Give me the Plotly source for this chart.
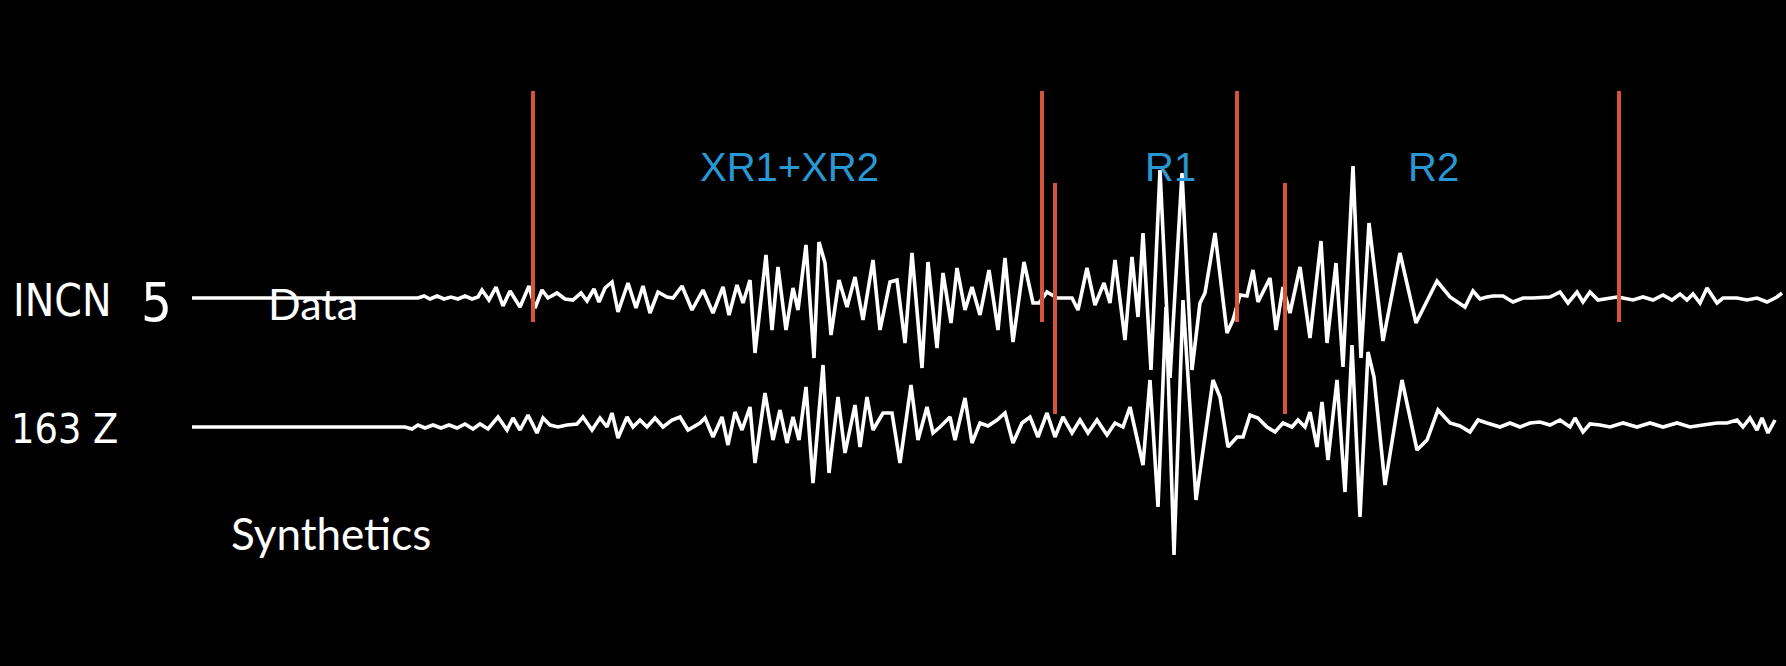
import plotly.graph_objects as go

# Recorded vertical-component trace (time in s, amplitude in counts)
data_t = [192, 418, 424, 430, 437, 444, 451, 458, 465, 472, 478,
          482, 489, 496, 503, 510, 520, 529, 535, 542, 548, 557, 565, 573, 581, 587,
          594, 599, 605, 612, 618, 628, 636, 643, 650, 658, 667, 673, 682, 692,
          703, 713, 723, 729, 737, 743, 750, 755, 766, 772, 778, 786, 793, 798,
          806, 814, 819, 825, 831, 839, 847, 855, 863, 873, 880, 890, 897, 905,
          912, 922, 928, 937, 943, 951, 957, 965, 972, 980, 989, 998, 1005, 1013,
          1024, 1033, 1039, 1047, 1057, 1072, 1078, 1087, 1095, 1104, 1110, 1115,
          1125, 1132, 1138, 1143, 1151, 1160, 1170, 1182, 1192, 1200, 1205, 1215,
          1227, 1233, 1240, 1247, 1253, 1258, 1264, 1270, 1276, 1283, 1290, 1300,
          1310, 1321, 1327, 1336, 1343, 1353, 1361, 1369, 1383, 1400, 1416, 1421,
          1437, 1450, 1458, 1465, 1473, 1480, 1487, 1493,
          1503, 1513, 1523, 1533, 1550, 1560, 1568, 1577, 1583, 1590, 1598, 1608,
          1617, 1623, 1633, 1643, 1653, 1663, 1672, 1680, 1687, 1693, 1700, 1707,
          1717, 1723, 1737, 1747, 1757, 1767, 1777, 1782]
data_amp = [0, 0, 2, -1, 2, -1, 1, -1, 2, -1, 1,
            8, -2, 11, -8, 7, -9, 12, -10, 8, 0, 5, -1, -2, 5, -3,
            9, -4, 10, 16, -14, 15, -10, 12, -15, 6, 1, 0, 12, -12,
            8, -15, 11, -17, 13, -5, 18, -55, 43, -32, 31, -32, 10, -12,
            53, -60, 56, 35, -37, 18, -9, 21, -22, 38, -32, 16, 18, -45,
            45, -70, 36, -50, 25, -25, 30, -12, 11, -17, 28, -32, 40, -44,
            36, -5, -5, 6, 0, 0, -12, 30, -7, 15, -5, 38,
            -42, 41, -19, 65, -72, 128, -80, 125, -72, -5, 5, 65,
            -35, -22, 3, 2, 28, -4, 8, 20, -32, 11, -15, 31,
            -40, 57, -45, 35, -69, 132, -60, 75, -43, 45, -25, -15,
            17, 1, -4, -9, 7, -1, 1, 2,
            2, -4, 0, 0, 1, 6, -5, 6, -4, 6, -2, 0,
            1, 0, -2, 1, -2, 3, -2, 4, -2, 4, -5, 10,
            -5, 0, 0, -2, 0, -4, 1, 5]

# Synthetic seismogram for the same station
syn_t = [192, 405, 412, 418, 425, 433, 441, 449, 457, 465, 473, 480, 488,
         498, 507, 513, 520, 528, 537, 543, 550, 558, 567, 577, 583, 592, 600,
         607, 612, 618, 627, 633, 640, 647, 655, 663, 672, 680, 688,
         700, 705, 713, 722, 728, 735, 742, 750, 755, 765, 773, 780, 787, 793,
         799, 806, 813, 823, 829, 838, 845, 855, 860, 867, 873, 883, 892, 900,
         911, 918, 927, 933, 940, 950, 955, 965, 972, 980, 988, 997, 1005, 1013,
         1022, 1030, 1038, 1047, 1055, 1063, 1072, 1080, 1088, 1097, 1107, 1115,
         1123, 1130, 1136, 1143, 1150, 1158, 1166, 1174, 1183, 1196, 1213, 1220,
         1228, 1237, 1243, 1250, 1258, 1267, 1275, 1283, 1292, 1298, 1305, 1310,
         1317, 1322, 1328, 1337, 1345, 1352, 1360, 1368, 1374, 1385, 1402, 1417,
         1427, 1438, 1450, 1460, 1470, 1478, 1487,
         1500, 1510, 1520, 1530, 1540, 1550, 1560, 1570, 1575, 1583, 1590, 1600,
         1610, 1623, 1637, 1650, 1663, 1677, 1690, 1703, 1717, 1727, 1737, 1743,
         1750, 1757, 1762, 1768, 1775]
syn_amp = [0, 0, -2, 2, -1, 2, -1, 2, -1, 3, -2, 3, -2,
           10, -3, 9, -3, 12, -6, 9, 2, 0, 2, 3, 10, -3, 9,
           0, 14, -11, 10, 0, 7, 0, 9, 0, 7, 10, -3,
           4, 9, -10, 10, -18, 15, -3, 20, -36, 34, -13, 17, -16, 10,
           -13, 40, -56, 62, -46, 30, -26, 22, -20, 30, -3, 14, 14, -36,
           42, -13, 20, -6, 0, 10, -13, 29, -16, 4, 1, 7, 14, -16,
           4, 10, -10, 14, -10, 10, -6, 7, -6, 7, -8, 4,
           0, 20, -6, -38, 47, -80, 120, -128, 127, -73, 47, 30,
           -20, -10, -10, 12, 9, 0, -5, 4, 0, 7, 0, 15,
           -20, 25, -33, 47, -65, 82, -90, 75, 50, -58, 47, -23,
           -13, 17, 4, 1, -5, 7, 4,
           0, 4, 0, 4, 5, 2, 7, 0, 9, -5, 3, 2,
           0, 4, 0, 4, 0, 4, 0, 2, 4, 4, 7, 0,
           9, -3, 9, -6, 7]

# Phase-window picks (s) with their top / bottom extent (counts)
data_picks = [533, 1042, 1237, 1619]
data_pick_span = [207, -24]
syn_picks = [1055, 1285]
syn_pick_span = [244, 13]

# Phase group labels and their times
phase_names = ["XR1+XR2", "R1", "R2"]
phase_times = [789, 1170, 1433]

W, H = 1786, 666
TRACE_Y = 298      # pixel row of the data baseline
SYN_Y = 427        # pixel row of the synthetic baseline

fig = go.Figure()

trace_line = dict(color="white", width=3.6)
fig.add_trace(go.Scatter(x=data_t, y=data_amp, mode="lines", line=trace_line,
                         hoverinfo="skip", yaxis="y"))
fig.add_trace(go.Scatter(x=syn_t, y=syn_amp, mode="lines", line=trace_line,
                         hoverinfo="skip", yaxis="y2"))

red = "#d6553a"
for t in data_picks:
    fig.add_trace(go.Scatter(x=[t, t], y=data_pick_span, mode="lines",
                             line=dict(color=red, width=4),
                             hoverinfo="skip", yaxis="y"))
for t in syn_picks:
    fig.add_trace(go.Scatter(x=[t, t], y=syn_pick_span, mode="lines",
                             line=dict(color=red, width=4),
                             hoverinfo="skip", yaxis="y2"))

ann = []
blue = "#2a97d5"
for name, t in zip(phase_names, phase_times):
    ann.append(dict(x=t, y=131, xref="x", yref="y", text=name,
                    showarrow=False, xanchor="center", yanchor="middle",
                    font=dict(family="Liberation Sans, Arial, sans-serif",
                              size=40, color=blue)))

narrow = "DejaVu Sans Condensed, Liberation Sans Narrow, Liberation Sans, sans-serif"


def left_label(text, px, py, size, family):
    return dict(x=px / W, y=1 - py / H, xref="paper", yref="paper", text=text,
                showarrow=False, xanchor="left", yanchor="middle",
                font=dict(family=family, size=size, color="white"))


ann.append(left_label("INCN", 11, 300, 44, narrow))
ann.append(left_label("5", 139, 302, 54, narrow))
ann.append(left_label("163 Z", 9, 429, 41, narrow))
ann.append(left_label("Data", 266, 304, 43, "Lato, Open Sans, sans-serif"))
ann.append(left_label("Synthetics", 229, 533, 44, "Lato, Open Sans, sans-serif"))

fig.update_layout(
    width=W, height=H,
    margin=dict(l=0, r=0, t=0, b=0),
    paper_bgcolor="black", plot_bgcolor="black",
    showlegend=False,
    xaxis=dict(range=[0, W], visible=False, fixedrange=True),
    yaxis=dict(range=[-(H - TRACE_Y), TRACE_Y], visible=False, fixedrange=True),
    yaxis2=dict(range=[-(H - SYN_Y), SYN_Y], visible=False, overlaying="y",
                fixedrange=True),
    annotations=ann,
)

fig.write_html("out.html")
